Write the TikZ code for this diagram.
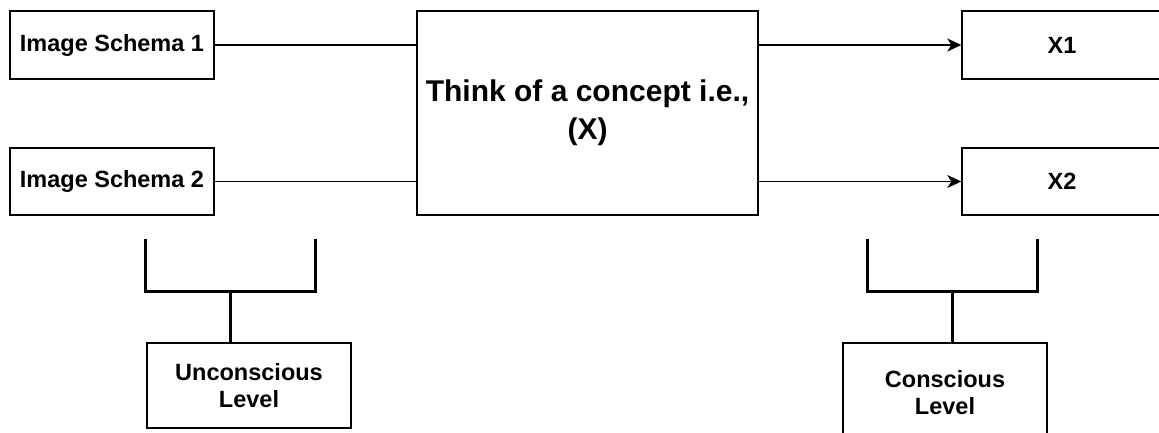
\documentclass[tikz,border=0pt]{standalone}
\usepackage{fontspec}
\setmainfont{Liberation Sans}
\usetikzlibrary{arrows.meta}
\tikzset{
  box/.style={draw, line width=1.4pt, fill=white, inner sep=0pt, align=center,
    font=\fontsize{23.5}{27}\selectfont\bfseries},
  bigbox/.style={box, font=\fontsize{30}{38}\selectfont\bfseries},
  link/.style={line width=1.3pt},
  arr/.style={line width=1.3pt, -{Stealth[length=14pt,width=13pt,inset=4pt]}},
  bracket/.style={line width=3pt, line cap=rect}
}
\begin{document}
\begin{tikzpicture}[x=1pt,y=-1pt]
\useasboundingbox (0,0) rectangle (1159,432);
\fill[white] (0,0) rectangle (1159,432);
% input boxes
\node[box, minimum width=204pt, minimum height=68pt] (s1) at (112,45) {Image Schema 1};
\node[box, minimum width=204pt, minimum height=67pt] (s2) at (112,181.5) {Image Schema 2};
% centre box
\node[bigbox, minimum width=341pt, minimum height=204pt] (c) at (587.5,113) {Think of a concept i.e.,\\(X)};
% output boxes
\node[box, minimum width=200pt, minimum height=68pt] (x1) at (1062,45) {X1};
\node[box, minimum width=200pt, minimum height=67pt] (x2) at (1062,181.5) {X2};
% connectors
\draw[link] (s1.east) -- (c.west |- s1.east);
\draw[link] (s2.east) -- (c.west |- s2.east);
\draw[arr] (c.east |- x1.west) -- (x1.west);
\draw[arr] (c.east |- x2.west) -- (x2.west);
% level boxes
\node[box, minimum width=204pt, minimum height=85pt] (u) at (249,385.5) {Unconscious\\Level};
\node[box, minimum width=204pt, minimum height=100pt] (k) at (945,393) {Conscious\\Level};
% brackets
\coordinate (ua) at (145,240);
\coordinate (ub) at (315,240);
\coordinate (um) at (230,291);
\draw[bracket] (ua) -- (ua |- um) -- (ub |- um) -- (ub);
\draw[line width=3pt] (um) -- (um |- u.north);
\coordinate (ka) at (867,240);
\coordinate (kb) at (1037,240);
\coordinate (km) at (952,291);
\draw[bracket] (ka) -- (ka |- km) -- (kb |- km) -- (kb);
\draw[line width=3pt] (km) -- (km |- k.north);
\end{tikzpicture}
\end{document}
